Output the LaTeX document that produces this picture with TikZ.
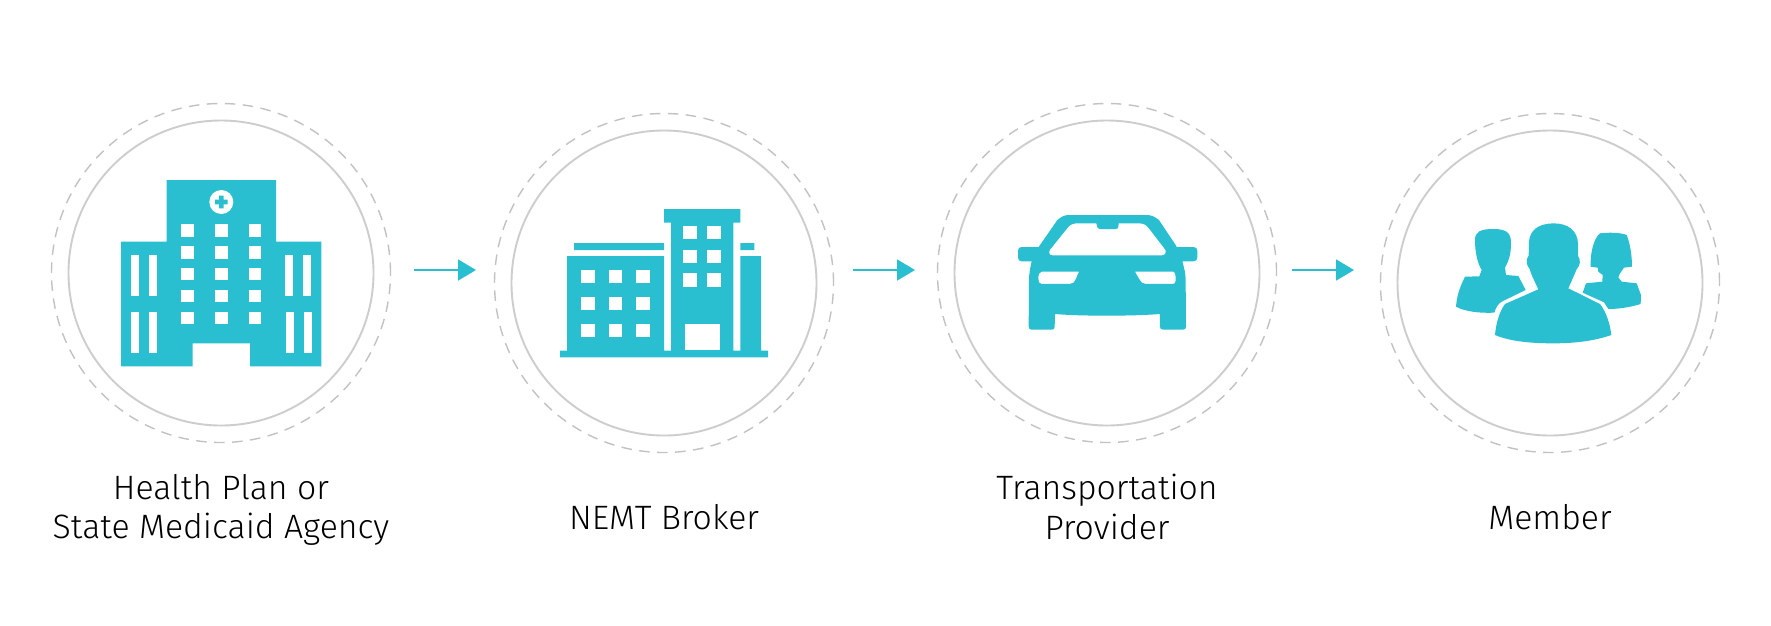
\documentclass[tikz,border=0pt]{standalone}
\usepackage{fontspec}
\setmainfont{Fira Sans Light}
\usetikzlibrary{arrows.meta}
\definecolor{teal1}{HTML}{29BFD0}
\definecolor{ring}{HTML}{CDCDCD}
\definecolor{dashring}{HTML}{C2C2C2}
\tikzset{
  innerring/.style={circle,draw=ring,line width=1.9pt,minimum size=305pt,inner sep=0pt},
  outerring/.style={circle,draw=dashring,line width=1.4pt,dash pattern=on 10.5pt off 7.5pt,minimum size=339pt,inner sep=0pt},
  flow/.style={draw=teal1,line width=1.7pt,-{Triangle[length=18pt,width=21pt]}},
  icon/.style={fill=teal1,draw=none,even odd rule},
  hole/.style={fill=white,draw=none},
  caption/.style={font=\fontsize{33.8pt}{39.7pt}\selectfont,text=black,align=center,inner sep=0pt,anchor=base}
}
\newcommand{\rct}[4]{(#1,#2) rectangle (#3,#4)}
\begin{document}
\begin{tikzpicture}[x=1pt,y=-1pt]
\useasboundingbox[fill=white] (0,0) rectangle (1771,625);
% rings
\node[outerring] (o1) at (221,273) {};
\node[innerring] (i1) at (221,273) {};
\node[outerring] (o2) at (664,283) {};
\node[innerring] (i2) at (664,283) {};
\node[outerring] (o3) at (1107,273) {};
\node[innerring] (i3) at (1107,273) {};
\node[outerring] (o4) at (1550,283) {};
\node[innerring] (i4) at (1550,283) {};
% connectors
\coordinate (a1s) at (414,270); \coordinate (a1e) at (476,270);
\coordinate (a2s) at (853,270); \coordinate (a2e) at (915,270);
\coordinate (a3s) at (1292,270); \coordinate (a3e) at (1354,270);
\draw[flow] (a1s) -- (a1e);
\draw[flow] (a2s) -- (a2e);
\draw[flow] (a3s) -- (a3e);
% hospital
\fill[icon] (166.7,180) -- (276,180) -- (276,241.7) -- (321.3,241.7) -- (321.3,366.3) -- (250,366.3) -- (250,343.3) -- (192.7,343.3) -- (192.7,366.3) -- (121,366.3) -- (121,241.7) -- (166.7,241.7) -- cycle;
\fill[hole] (221.3,202) circle (12);
\fill[teal1] \rct{215}{199.7}{227.7}{204.3} \rct{219}{195.7}{223.6}{208.3};
\foreach \xx in {181.3,215,248.7}
  \foreach \yy in {224.3,246.3,268,290,312}
    \fill[hole] (\xx,\yy) rectangle ++(12.6,12.4);
\foreach \xx in {130.7,149,285.3,303.3}
  \fill[hole] (\xx,255) rectangle ++(8,41.3);
\foreach \xx in {131,149.3,286,304}
  \fill[hole] (\xx,311.7) rectangle ++(8,41.3);
% office
\fill[icon] (560,350.7) -- (567,350.7) -- (567,256) -- (664,256) -- (664,350.7) -- (671,350.7) -- (671,222.7) -- (664,222.7) -- (664,209) -- (740.3,209) -- (740.3,222.7) -- (733.3,222.7) -- (733.3,350.7) -- (740.3,350.7) -- (740.3,256) -- (761,256) -- (761,350.7) -- (768,350.7) -- (768,357.3) -- (560,357.3) -- cycle;
\fill[teal1] \rct{574}{243}{664}{250} \rct{740.3}{243}{754.3}{250};
\foreach \xx in {683,707.3}
  \foreach \yy in {225.7,249.7,273.3}
    \fill[hole] (\xx,\yy) rectangle ++(14,13.7);
\fill[hole] \rct{685}{323.7}{719.7}{350.3};
\foreach \xx in {581,608.7,636.3}
  \foreach \yy in {270,297,323.7}
    \fill[hole] (\xx,\yy) rectangle ++(13.7,13.4);
% car
\begin{scope}[shift={(980,180)},x=0.3333pt,y=-0.3333pt]
\fill[icon]
 (262,105) -- (505,105) .. controls (520,108) and (528,112) .. (537,120) -- (587,195) -- (590,201) -- (640,201)
 .. controls (648,201) and (652,205) .. (652,212) -- (652,232) .. controls (652,240) and (648,244) .. (640,244) -- (607,244)
 .. controls (612,262) and (617,280) .. (617,300) -- (618,440) .. controls (618,446) and (615,449) .. (610,449) -- (550,449)
 .. controls (543,449) and (540,446) .. (540,440) -- (540,402) .. controls (490,406) and (430,407) .. (380,407)
 .. controls (330,407) and (270,406) .. (225,402) -- (224,440) .. controls (224,446) and (221,449) .. (216,449) -- (155,449)
 .. controls (149,449) and (146,446) .. (146,440) -- (147,300) .. controls (147,280) and (151,262) .. (155,244) -- (125,244)
 .. controls (118,244) and (114,240) .. (114,232) -- (114,212) .. controls (114,205) and (118,201) .. (125,201) -- (176,201)
 -- (232,120) .. controls (240,112) and (250,107) .. (262,105) -- cycle
 (292,130) -- (349,130) -- (352,142) .. controls (354,146) and (358,147) .. (362,147) -- (405,147) .. controls (411,147) and (414,145) .. (415,142) -- (416,130) -- (476,130)
 .. controls (490,130) and (498,134) .. (506,144) -- (556,209) .. controls (560,218) and (555,226) .. (546,226) -- (217,226)
 .. controls (208,226) and (205,217) .. (210,209) -- (264,142) .. controls (272,133) and (280,130) .. (292,130) -- cycle
 (185,275) -- (297,275) -- (287,298) .. controls (282,308) and (278,312) .. (268,312) -- (185,312) .. controls (177,312) and (175,305) .. (175,296) .. controls (175,283) and (178,275) .. (185,275) -- cycle
 (465,275) -- (580,275) .. controls (586,276) and (588,290) .. (587,302) .. controls (587,309) and (584,312) .. (578,312) -- (498,312) .. controls (488,312) and (482,306) .. (478,298) -- cycle;
\end{scope}
% people
\begin{scope}[shift={(1430,200)},x=0.3333pt,y=-0.3333pt]
\fill[icon] (195,405) .. controls (198,370) and (208,335) .. (225,312) -- (325,268) -- (311,238) .. controls (303,222) and (301,212) .. (298,205)
 .. controls (290,198) and (286,178) .. (296,167) -- (297,125) .. controls (300,90) and (325,71) .. (370,70)
 .. controls (415,70) and (442,92) .. (444,130) -- (444,168) .. controls (453,180) and (451,195) .. (440,208) -- (415,265) -- (510,312)
 .. controls (528,335) and (540,370) .. (544,405) .. controls (490,424) and (430,430) .. (370,430) .. controls (300,430) and (240,424) .. (195,405) -- cycle;
\fill[icon] (78,320) .. controls (80,295) and (85,270) .. (105,230) -- (148,229) -- (155,210) .. controls (143,190) and (135,160) .. (135,120)
 .. controls (135,96) and (150,87) .. (190,87) .. controls (232,87) and (243,100) .. (243,130) .. controls (243,165) and (235,185) .. (225,203)
 -- (228,225) -- (265,228) -- (287,270) -- (215,305) .. controls (203,312) and (197,325) .. (193,338) .. controls (150,340) and (105,335) .. (78,320) -- cycle;
\fill[icon] (458,278) -- (468,250) -- (517,245) -- (518,225) -- (505,215) -- (503,203) -- (482,200)
 .. controls (480,165) and (490,115) .. (510,100) .. controls (535,97) and (570,97) .. (590,105) .. controls (600,130) and (606,165) .. (606,200) -- (582,203)
 -- (570,220) -- (565,232) -- (575,245) -- (620,250) -- (633,285) -- (632,312) .. controls (600,322) and (565,327) .. (535,327) -- (522,307) -- cycle;
\end{scope}
% captions
\node[caption] (t1) at (221,538.7) {Health Plan or\\State Medicaid Agency};
\node[caption] (t2) at (664,529) {NEMT Broker};
\node[caption] (t3) at (1107,539) {Transportation\\Provider};
\node[caption] (t4) at (1550,529) {Member};
\end{tikzpicture}
\end{document}
